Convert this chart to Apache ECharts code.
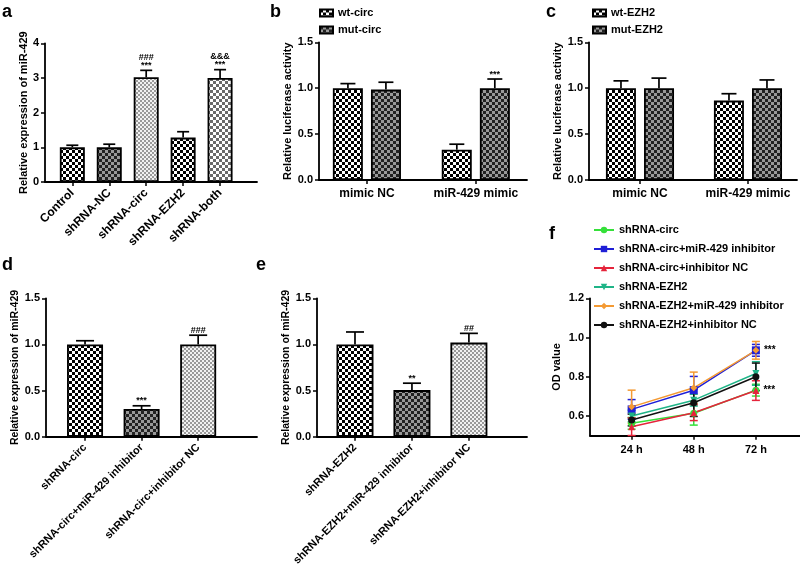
<!DOCTYPE html>
<html><head><meta charset="utf-8">
<script src="https://cdn.jsdelivr.net/npm/echarts@6/dist/echarts.min.js"></script>
<style>html,body{margin:0;padding:0;background:#fff}#c{width:800px;height:575px}</style>
</head><body><div id="c"></div>
<script>
// ---------- data ----------
// Panel a
const catsA = ['Control', 'shRNA-NC', 'shRNA-circ', 'shRNA-EZH2', 'shRNA-both'];
const valsA = [1.0, 1.0, 3.02, 1.28, 3.0];
const errA = [0.06, 0.09, 0.2, 0.17, 0.24];
const sigA = ['', '', '###\n***', '', '&&&\n***'];
// Panel b
const catsB = ['mimic NC', 'miR-429 mimic'];
const wtCirc = [1.0, 0.33];
const wtCircErr = [0.05, 0.06];
const mutCirc = [0.985, 1.0];
const mutCircErr = [0.08, 0.1];
const sigWtCirc = ['', ''];
const sigMutCirc = ['', '***'];
// Panel c
const catsC = ['mimic NC', 'miR-429 mimic'];
const wtEzh2 = [1.0, 0.865];
const wtEzh2Err = [0.08, 0.075];
const mutEzh2 = [1.0, 1.0];
const mutEzh2Err = [0.11, 0.09];
const sigEzh2 = ['', ''];
// Panel d
const catsD = ['shRNA-circ', 'shRNA-circ+miR-429 inhibitor', 'shRNA-circ+inhibitor NC'];
const valsD = [1.0, 0.3, 1.0];
const errD = [0.04, 0.035, 0.1];
const sigD = ['', '***', '###'];
// Panel e
const catsE = ['shRNA-EZH2', 'shRNA-EZH2+miR-429 inhibitor', 'shRNA-EZH2+inhibitor NC'];
const valsE = [1.0, 0.505, 1.02];
const errE = [0.135, 0.075, 0.1];
const sigE = ['', '**', '##'];
// Panel f
const timesF = ['24 h', '48 h', '72 h'];
const namesF = ['shRNA-circ', 'shRNA-circ+miR-429 inhibitor', 'shRNA-circ+inhibitor NC',
  'shRNA-EZH2', 'shRNA-EZH2+miR-429 inhibitor', 'shRNA-EZH2+inhibitor NC'];
const odCirc = [0.563, 0.614, 0.732];
const odCircErr = [0.03, 0.06, 0.03];
const odCircInh = [0.634, 0.732, 0.935];
const odCircInhErr = [0.05, 0.07, 0.03];
const odCircNC = [0.546, 0.617, 0.73];
const odCircNCErr = [0.045, 0.04, 0.05];
const odEzh2 = [0.60, 0.681, 0.817];
const odEzh2Err = [0.03, 0.03, 0.06];
const odEzh2Inh = [0.647, 0.744, 0.935];
const odEzh2InhErr = [0.085, 0.08, 0.045];
const odEzh2NC = [0.58, 0.668, 0.80];
const odEzh2NCErr = [0.03, 0.07, 0.07];
const sigFCirc = ['', '', '***'];
const sigFCircInh = ['', '', '***'];

// ---------- styling helpers ----------
const FF = "'Liberation Sans', Arial, sans-serif";
function checker(cell, c1, c2) {
  const cv = document.createElement('canvas');
  cv.width = cv.height = cell * 2;
  const g = cv.getContext('2d');
  g.fillStyle = c2; g.fillRect(0, 0, cell * 2, cell * 2);
  g.fillStyle = c1; g.fillRect(0, 0, cell, cell); g.fillRect(cell, cell, cell, cell);
  return { image: cv, repeat: 'repeat' };
}
const pBW = checker(3, '#000', '#fff');
const pDark = checker(3, '#222', '#999');
const pLight = checker(2, '#9a9a9a', '#f2f2f2');
const pGrey = checker(3, '#6a6a6a', '#fff');

const bw = 1.8;
function mkX(gi, min, max, labels, rotate, fontSize, margin) {
  const vals = labels.map((_, i) => i + 1);
  return {
    type: 'value', gridIndex: gi, min: min, max: max, splitLine: { show: false },
    axisLine: { show: true, onZero: false, lineStyle: { color: '#000', width: bw } },
    axisTick: { show: true, customValues: vals, length: 4, lineStyle: { color: '#000', width: 1.5 } },
    axisLabel: { customValues: vals, formatter: v => labels[Math.round(v) - 1], rotate: rotate,
      margin: margin, color: '#000', fontSize: fontSize, fontWeight: 'bold', fontFamily: FF }
  };
}
function mkY(gi, min, max, interval, name, nameSize, nameGap, dec, custom) {
  const ax = {
    type: 'value', gridIndex: gi, min: min, max: max, name: name, nameLocation: 'middle', nameGap: nameGap,
    nameTextStyle: { color: '#000', fontSize: nameSize, fontWeight: 'bold', fontFamily: FF },
    splitLine: { show: false },
    axisLine: { show: true, onZero: false, lineStyle: { color: '#000', width: bw } },
    axisTick: { show: true, length: 4, lineStyle: { color: '#000', width: 1.5 } },
    axisLabel: { formatter: v => v.toFixed(dec), margin: 6, color: '#000', fontSize: 11, fontWeight: 'bold', fontFamily: FF }
  };
  if (interval) ax.interval = interval;
  if (custom) { ax.axisTick.customValues = custom; ax.axisLabel.customValues = custom; }
  return ax;
}
function barSeries(name, gi, vals, patterns, width, gap) {
  return {
    name: name, type: 'bar', xAxisIndex: gi, yAxisIndex: gi, barWidth: width, barGap: gap,
    data: vals.map((v, i) => ({ value: [i + 1, v],
      itemStyle: { color: Array.isArray(patterns) ? patterns[i] : patterns, borderColor: '#000', borderWidth: bw } })),
    itemStyle: { color: Array.isArray(patterns) ? patterns[0] : patterns, borderColor: '#000', borderWidth: bw },
    z: 2
  };
}
function errSeries(gi, vals, errs, sig, offset, capHalf) {
  return {
    type: 'custom', xAxisIndex: gi, yAxisIndex: gi, z: 3, silent: true,
    data: vals.map((v, i) => [i + 1, v, errs[i]]),
    renderItem: function (params, api) {
      const x = api.value(0), v = api.value(1), e = api.value(2);
      const p0 = api.coord([x, v]), p1 = api.coord([x, v + e]);
      const cx = p0[0] + offset;
      const ch = [
        { type: 'line', shape: { x1: cx, y1: p0[1], x2: cx, y2: p1[1] }, style: { stroke: '#000', lineWidth: 1.7 } },
        { type: 'line', shape: { x1: cx - capHalf, y1: p1[1], x2: cx + capHalf, y2: p1[1] }, style: { stroke: '#000', lineWidth: 1.7 } }
      ];
      const s = sig[params.dataIndex];
      if (s) ch.push({ type: 'text', style: { text: s, x: cx, y: p1[1] - 1, align: 'center', verticalAlign: 'bottom',
        fontSize: 9, fontWeight: 'bold', fontFamily: FF, fill: '#000', lineHeight: 8 } });
      return { type: 'group', children: ch };
    }
  };
}
const colorsF = ['#35e03a', '#1f1fd6', '#e5243b', '#1fb487', '#f49a33', '#111111'];
const symbolsF = ['circle', 'rect', 'triangle', 'triangle', 'diamond', 'circle'];
const rotF = [0, 0, 0, 180, 0, 0];
const seriesF = [odCirc, odCircInh, odCircNC, odEzh2, odEzh2Inh, odEzh2NC];
const errsF = [odCircErr, odCircInhErr, odCircNCErr, odEzh2Err, odEzh2InhErr, odEzh2NCErr];
const sigsF = [sigFCirc, sigFCircInh, null, null, null, null];

function lineErrSeries(vals, errs, color) {
  return {
    type: 'custom', xAxisIndex: 5, yAxisIndex: 5, z: 2, silent: true,
    data: vals.map((v, i) => [i + 1, v, errs[i]]),
    renderItem: function (params, api) {
      const x = api.value(0), v = api.value(1), e = api.value(2);
      const pt = api.coord([x, v + e]), pb = api.coord([x, v - e]);
      const st = { stroke: color, lineWidth: 1.5 };
      return { type: 'group', children: [
        { type: 'line', shape: { x1: pt[0], y1: pt[1], x2: pb[0], y2: pb[1] }, style: st },
        { type: 'line', shape: { x1: pt[0] - 4, y1: pt[1], x2: pt[0] + 4, y2: pt[1] }, style: st },
        { type: 'line', shape: { x1: pb[0] - 4, y1: pb[1], x2: pb[0] + 4, y2: pb[1] }, style: st }
      ] };
    }
  };
}

const series = [
  barSeries('a', 0, valsA, [pBW, pDark, pLight, pBW, pGrey], 25, '0%'),
  errSeries(0, valsA, errA, sigA, 0, 6),
  barSeries('wt-circ', 1, wtCirc, pBW, 30, '27%'),
  barSeries('mut-circ', 1, mutCirc, pDark, 30, '27%'),
  errSeries(1, wtCirc, wtCircErr, sigWtCirc, -19, 7.5),
  errSeries(1, mutCirc, mutCircErr, sigMutCirc, 19, 7.5),
  barSeries('wt-EZH2', 2, wtEzh2, pBW, 30, '27%'),
  barSeries('mut-EZH2', 2, mutEzh2, pDark, 30, '27%'),
  errSeries(2, wtEzh2, wtEzh2Err, sigEzh2, -19, 7.5),
  errSeries(2, mutEzh2, mutEzh2Err, sigEzh2, 19, 7.5),
  barSeries('d', 3, valsD, [pBW, pDark, pLight], 36, '0%'),
  errSeries(3, valsD, errD, sigD, 0, 9),
  barSeries('e', 4, valsE, [pBW, pDark, pLight], 37, '0%'),
  errSeries(4, valsE, errE, sigE, 0, 9)
];
seriesF.forEach((vals, k) => {
  series.push(lineErrSeries(vals, errsF[k], colorsF[k]));
});
seriesF.forEach((vals, k) => {
  const sig = sigsF[k];
  series.push({
    name: namesF[k], type: 'line', xAxisIndex: 5, yAxisIndex: 5, z: 4,
    data: vals.map((v, i) => [i + 1, v]),
    symbol: symbolsF[k], symbolRotate: rotF[k], symbolSize: k === 1 ? 8 : 7,
    itemStyle: { color: colorsF[k] }, lineStyle: { color: colorsF[k], width: 1.5 },
    label: sig ? { show: true, position: 'right', distance: 4, formatter: p => sig[p.dataIndex],
      color: '#000', fontSize: 10, fontWeight: 'bold', fontFamily: FF } : { show: false }
  });
});

const titleStyle = { fontSize: 18, fontWeight: 'bold', fontFamily: FF, color: '#000' };
const letter = (t, l, tp) => ({ text: t, left: l, top: tp, padding: 0, textStyle: titleStyle });
const legText = { color: '#000', fontSize: 11, fontWeight: 'bold', fontFamily: FF, lineHeight: 12 };

const option = {
  backgroundColor: '#fff',
  animation: false,
  title: [letter('a', 2, 3), letter('b', 270, 3), letter('c', 546, 3),
          letter('d', 2, 256), letter('e', 256, 256), letter('f', 549, 225)],
  legend: [
    { data: ['wt-circ', 'mut-circ'], orient: 'vertical', left: 319, top: 7, icon: 'rect',
      itemWidth: 13, itemHeight: 7, itemGap: 5, padding: 0, textStyle: legText, selectedMode: false },
    { data: ['wt-EZH2', 'mut-EZH2'], orient: 'vertical', left: 592, top: 7, icon: 'rect',
      itemWidth: 13, itemHeight: 7, itemGap: 5, padding: 0, textStyle: legText, selectedMode: false },
    { data: namesF, orient: 'vertical', left: 593, top: 224,
      itemWidth: 20, itemHeight: 8, itemGap: 7, padding: 0, textStyle: legText, selectedMode: false }
  ],
  grid: [
    { left: 45, top: 43.3, width: 212, height: 138.7 },
    { left: 319, top: 42.3, width: 208, height: 137.7 },
    { left: 589, top: 42.3, width: 208, height: 137.7 },
    { left: 46, top: 298.3, width: 211, height: 138.4 },
    { left: 317, top: 298.3, width: 210, height: 138.4 },
    { left: 590, top: 298.3, width: 210, height: 137.4 }
  ],
  xAxis: [
    mkX(0, 0.26, 6.0, catsA, 45, 12, 9),
    mkX(1, 0.56, 2.47, catsB, 0, 12, 8),
    mkX(2, 0.528, 2.454, catsC, 0, 12, 8),
    mkX(3, 0.31, 4.04, catsD, 45, 11, 9),
    mkX(4, 0.333, 4.02, catsE, 45, 11, 9),
    mkX(5, 0.33, 3.71, timesF, 0, 11, 9)
  ],
  yAxis: [
    mkY(0, 0, 4, 1, 'Relative expression of miR-429', 11, 11, 0),
    mkY(1, 0, 1.5, 0.5, 'Relative luciferase activity', 11, 26, 1),
    mkY(2, 0, 1.5, 0.5, 'Relative luciferase activity', 11, 26, 1),
    mkY(3, 0, 1.5, 0.5, 'Relative expression of miR-429', 10.5, 25, 1),
    mkY(4, 0, 1.5, 0.5, 'Relative expression of miR-429', 10.5, 24, 1),
    mkY(5, 0.5, 1.2, null, 'OD value', 11, 28, 1, [0.6, 0.8, 1.0, 1.2])
  ],
  series: series
};
const chart = echarts.init(document.getElementById('c'), null, { renderer: 'canvas' });
chart.setOption(option);
</script></body></html>
